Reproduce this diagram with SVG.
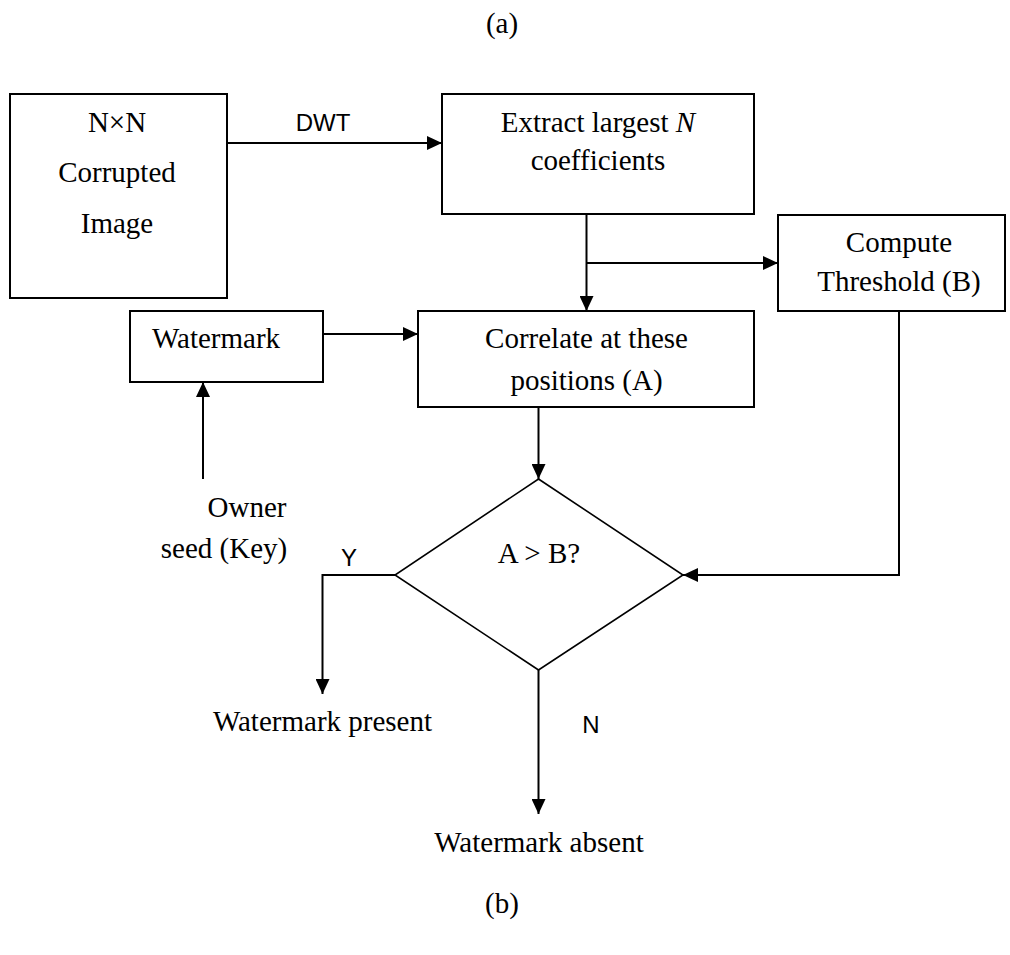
<svg xmlns="http://www.w3.org/2000/svg" width="1010" height="955" viewBox="0 0 1010 955">
<defs>
<marker id="ah" markerUnits="userSpaceOnUse" markerWidth="16" markerHeight="14" refX="15" refY="7" orient="auto">
<path d="M0,0 L15,7 L0,14 Z" fill="#000"/>
</marker>
<style>
.box{fill:#fff;stroke:#000;stroke-width:2}
.dia{fill:#fff;stroke:#000;stroke-width:1.6}
.t{font-family:"Liberation Serif","Times New Roman",serif;font-size:29px;fill:#000}
.s{font-family:"Liberation Sans",Arial,sans-serif;font-size:24px;fill:#000}
.c{stroke:#000;stroke-width:2;fill:none}
.a{marker-end:url(#ah)}
</style>
</defs>
<rect width="1010" height="955" fill="#fff"/>
<text class="t" x="502" y="33" text-anchor="middle">(a)</text>
<text class="t" x="502" y="913" text-anchor="middle">(b)</text>

<g id="connectors">
<line class="c a" x1="227" y1="143" x2="442" y2="143"/>
<text class="s" x="323" y="131" text-anchor="middle">DWT</text>
<line class="c a" x1="586.5" y1="214" x2="586.5" y2="311"/>
<line class="c a" x1="586.5" y1="263" x2="778" y2="263"/>
<line class="c a" x1="323" y1="334" x2="418" y2="334"/>
<line class="c a" x1="203" y1="479" x2="203" y2="382"/>
<line class="c a" x1="538.5" y1="407" x2="538.5" y2="479"/>
<polyline class="c a" points="899,311 899,575 683,575"/>
<polyline class="c a" points="395,575 322.5,575 322.5,694"/>
<line class="c a" x1="538.5" y1="670" x2="538.5" y2="814"/>
<text class="s" x="349" y="566" text-anchor="middle">Y</text>
<text class="s" x="591" y="733" text-anchor="middle">N</text>
</g>

<g id="n-image">
<rect class="box" x="10" y="94" width="217" height="204"/>
<text class="t" x="117" y="132" text-anchor="middle">N×N</text>
<text class="t" x="117" y="182" text-anchor="middle">Corrupted</text>
<text class="t" x="117" y="233" text-anchor="middle">Image</text>
</g>

<g id="n-extract">
<rect class="box" x="442" y="94" width="312" height="120"/>
<text class="t" x="598" y="132" text-anchor="middle">Extract largest <tspan font-style="italic">N</tspan></text>
<text class="t" x="598" y="170" text-anchor="middle">coefficients</text>
</g>

<g id="n-threshold">
<rect class="box" x="778" y="215" width="227" height="96"/>
<text class="t" x="899" y="252" text-anchor="middle">Compute</text>
<text class="t" x="899" y="291" text-anchor="middle">Threshold (B)</text>
</g>

<g id="n-watermark">
<rect class="box" x="130" y="311" width="193" height="71"/>
<text class="t" x="152" y="348">Watermark</text>
</g>

<g id="n-correlate">
<rect class="box" x="418" y="311" width="336" height="96"/>
<text class="t" x="586.5" y="348" text-anchor="middle">Correlate at these</text>
<text class="t" x="586.5" y="390" text-anchor="middle">positions (A)</text>
</g>

<g id="n-owner">
<text class="t" x="247" y="517" text-anchor="middle">Owner</text>
<text class="t" x="224" y="558" text-anchor="middle">seed (Key)</text>
</g>

<g id="n-decision">
<polygon class="dia" points="538.5,479 683,575 538.5,670 395,575"/>
<text class="t" x="539" y="563" text-anchor="middle">A &gt; B?</text>
</g>

<g id="n-present">
<text class="t" x="322.5" y="731" text-anchor="middle">Watermark present</text>
</g>

<g id="n-absent">
<text class="t" x="539" y="852" text-anchor="middle">Watermark absent</text>
</g>
</svg>
